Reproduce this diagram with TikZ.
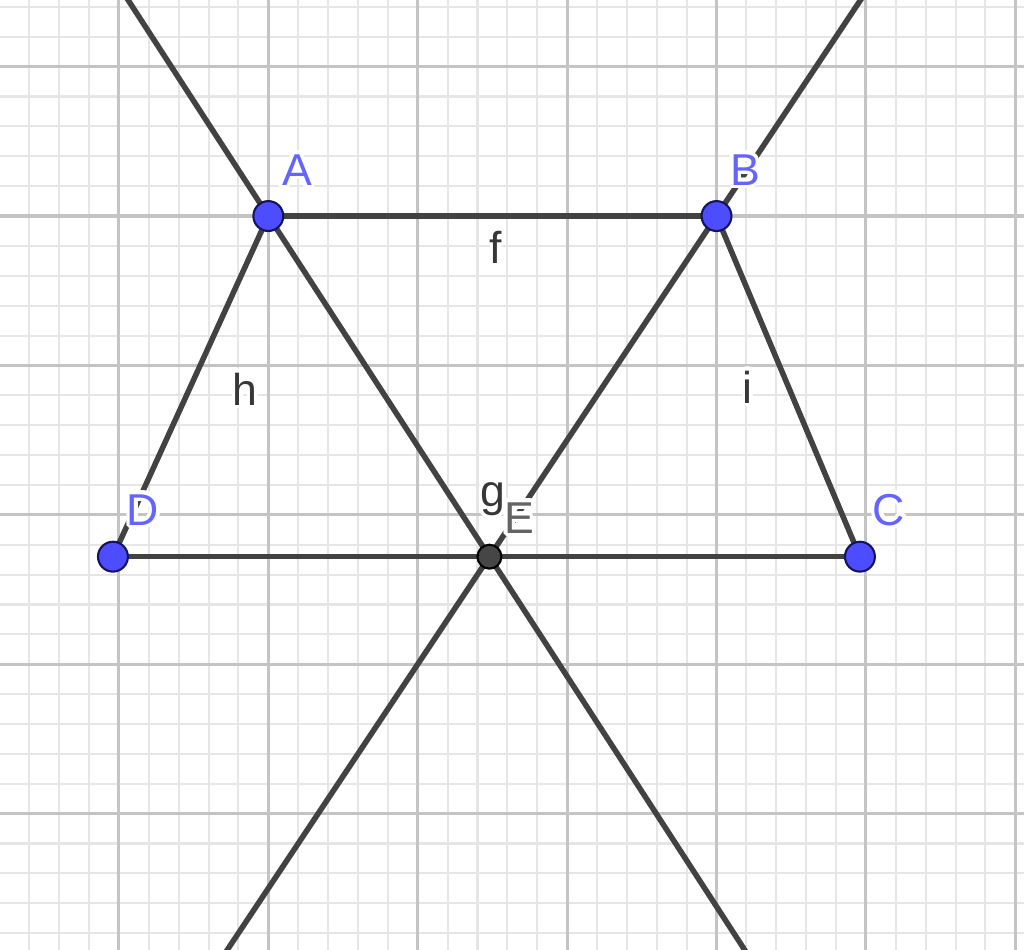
\documentclass[tikz,border=0pt]{standalone}
\usepackage{fontspec}
\setmainfont{Liberation Sans}
\usepackage{tikz}
\usetikzlibrary{calc}
\definecolor{gridMajor}{RGB}{196,196,196}
\definecolor{gridMinor}{RGB}{230,230,230}
\definecolor{edgeGray}{RGB}{66,66,66}
\definecolor{pointBlue}{RGB}{77,77,255}
\definecolor{pointRim}{RGB}{20,20,90}
\definecolor{labelBlue}{RGB}{100,100,255}
\definecolor{labelGray}{RGB}{100,100,100}
\definecolor{segLabel}{RGB}{55,55,55}
\definecolor{interGray}{RGB}{70,70,70}
\newcommand\haloWidth{0.024}
\tikzset{
		edgeStyle/.style = {line width = 1.05pt, draw=edgeGray},
		freePoint/.style = {circle, fill=pointBlue, draw=pointRim, line width=0.4pt, inner sep=0pt, minimum size=0.2cm},
		interPoint/.style = {circle, fill=interGray, draw=black, line width=0.4pt, inner sep=0pt, minimum size=0.16cm},
    labelStyle/.style = {anchor=base, inner sep=0pt, font=\fontsize{8.5}{10}\selectfont}
}
\newcommand{\haloLabel}[4]{
      % white rim round the text, then the text itself
      \foreach \ang in {0,20,...,340}
        \node [labelStyle, text=white, shift={(\ang:\haloWidth)}] at (#2) {#4};
      \node [labelStyle, text=#3] (#1) at (#2) {#4};
}
\begin{document}
\begin{tikzpicture}
  {
    \useasboundingbox (-1.796,-4.906) rectangle (5.058,1.446);
    \clip (-1.796,-4.906) rectangle (5.058,1.446);

    % Grid
    \draw [gridMinor, line width=0.4pt, step=0.2] (-2,-5) grid (6,2);
    \draw [gridMajor, line width=0.6pt, step=1] (-2,-5) grid (6,2);

    % Points
    \coordinate (A) at (0,0);
    \coordinate (B) at (3,0);
    \coordinate (C) at (3.96,-2.28);
    \coordinate (D) at (-1.04,-2.28);
    \coordinate (E) at (1.48,-2.28);
    \coordinate (aeTop) at ($(A)!-1!(E)$);
    \coordinate (aeEnd) at ($(A)!3!(E)$);
    \coordinate (beTop) at ($(B)!-1!(E)$);
    \coordinate (beEnd) at ($(B)!3!(E)$);

    % Lines through E
    \draw [edgeStyle] (aeTop)--(aeEnd);
    \draw [edgeStyle] (beTop)--(beEnd);

    % Segments f, g, h, i
    \draw [edgeStyle] (A)--(B);
    \draw [edgeStyle] (D)--(C);
    \draw [edgeStyle] (A)--(D);
    \draw [edgeStyle] (B)--(C);

    % Labels
    \haloLabel{labF}{1.524,-0.315}{segLabel}{f}
    \haloLabel{labG}{1.504,-1.941}{segLabel}{g}
    \haloLabel{labH}{-0.156,-1.265}{segLabel}{h}
    \haloLabel{labI}{3.210,-1.252}{segLabel}{i}
    \haloLabel{labA}{0.192,0.207}{labelBlue}{A}
    \haloLabel{labB}{3.190,0.207}{labelBlue}{B}
    \haloLabel{labC}{4.154,-2.068}{labelBlue}{C}
    \haloLabel{labD}{-0.839,-2.068}{labelBlue}{D}
    \haloLabel{labE}{1.678,-2.122}{labelGray}{E}

    % Point markers
    \foreach \p in {A,B,C,D}
      \node [freePoint] (dot\p) at (\p) {};
    \node [interPoint] (dotE) at (E) {};
  }
\end{tikzpicture}
\end{document}
